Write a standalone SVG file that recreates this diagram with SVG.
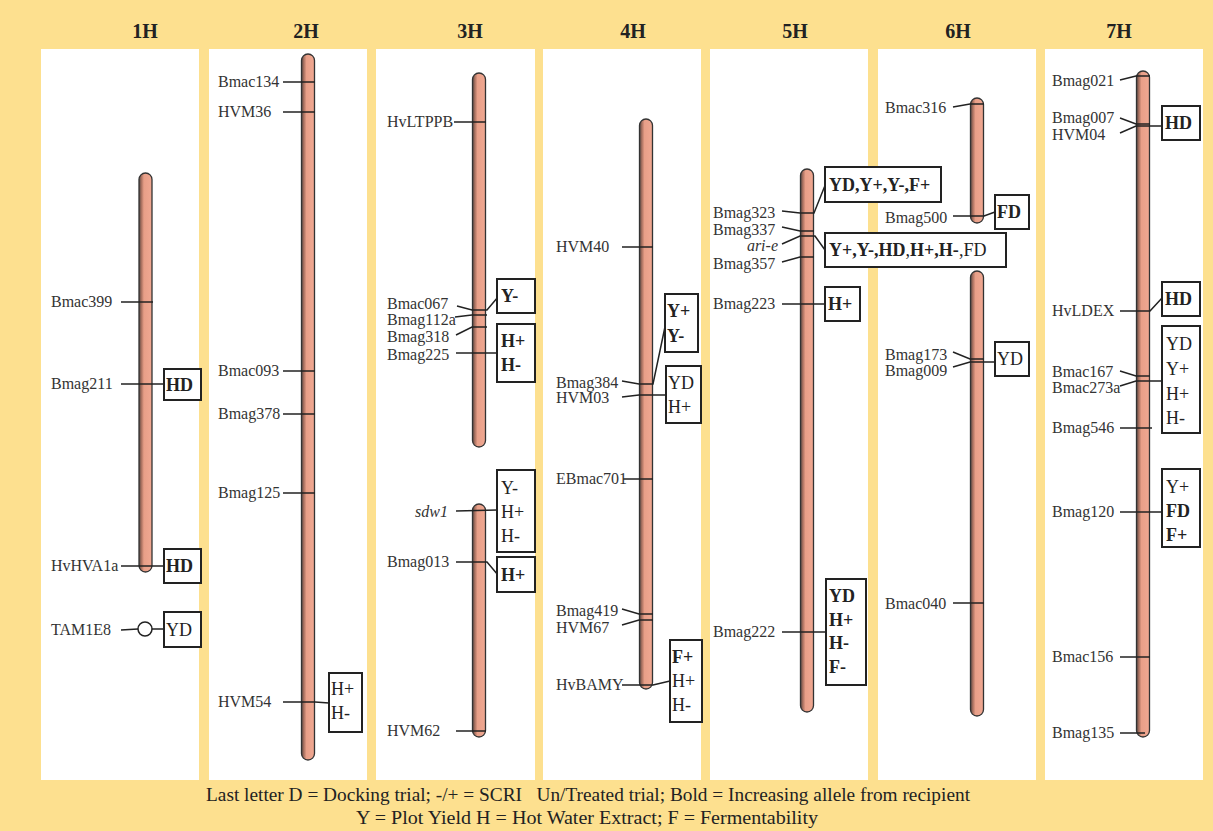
<svg xmlns="http://www.w3.org/2000/svg" width="1213" height="831" viewBox="0 0 1213 831">
<defs>
<linearGradient id="chr" x1="0" x2="1" y1="0" y2="0">
<stop offset="0" stop-color="#5a4a45"/>
<stop offset="0.18" stop-color="#a8705f"/>
<stop offset="0.38" stop-color="#e89f88"/>
<stop offset="1" stop-color="#f0a892"/>
</linearGradient>
<style>
.bg{fill:#fde08f}
.panel{fill:#ffffff}
.title{font-family:"Liberation Serif",serif;font-size:20px;font-weight:bold;fill:#222;text-anchor:middle}
.chrom{fill:url(#chr);stroke:#333;stroke-width:1.3}
.lbl{font-family:"Liberation Serif",serif;font-size:16px;fill:#333}
.it{font-style:italic}
.end{text-anchor:end}
.box{fill:#fff;stroke:#222;stroke-width:2}
.bt{font-family:"Liberation Serif",serif;font-size:18px;fill:#222}
.b{font-weight:bold}
.ln{fill:none;stroke:#222;stroke-width:1.5}
.leg{font-family:"Liberation Serif",serif;font-size:18px;fill:#222}
</style>
</defs>
<rect class="bg" x="0" y="0" width="1213" height="831"/>
<g id="panels">
<rect class="panel" x="41" y="49" width="158" height="731"/>
<rect class="panel" x="209" y="49" width="158" height="731"/>
<rect class="panel" x="376" y="49" width="159" height="731"/>
<rect class="panel" x="543" y="49" width="158" height="731"/>
<rect class="panel" x="710" y="49" width="158" height="731"/>
<rect class="panel" x="878" y="49" width="158" height="731"/>
<rect class="panel" x="1045" y="49" width="158" height="731"/>
</g>
<g id="titles">
<text class="title" x="145" y="38">1H</text>
<text class="title" x="306" y="38">2H</text>
<text class="title" x="470" y="38">3H</text>
<text class="title" x="633" y="38">4H</text>
<text class="title" x="795" y="38">5H</text>
<text class="title" x="958" y="38">6H</text>
<text class="title" x="1119" y="38">7H</text>
</g>
<g id="chromosomes">
<rect id="chr1H" class="chrom" x="139" y="173" width="13" height="399" rx="6.5"/>
<rect id="chr2H" class="chrom" x="301.5" y="54" width="13" height="706" rx="6.5"/>
<rect id="chr3Ha" class="chrom" x="472.5" y="73" width="13" height="374" rx="6.5"/>
<rect id="chr3Hb" class="chrom" x="472.5" y="504" width="13" height="233" rx="6.5"/>
<rect id="chr4H" class="chrom" x="639.5" y="119" width="13" height="570" rx="6.5"/>
<rect id="chr5H" class="chrom" x="800.5" y="169" width="13" height="543" rx="6.5"/>
<rect id="chr6Ha" class="chrom" x="970.5" y="98" width="13" height="125" rx="6.5"/>
<rect id="chr6Hb" class="chrom" x="970.5" y="271" width="13" height="445" rx="6.5"/>
<rect id="chr7H" class="chrom" x="1136.5" y="71" width="13" height="666" rx="6.5"/>
</g>
<g id="connectors">
<path class="ln" d="M121 302H153"/>
<path class="ln" d="M121 384H164"/>
<path class="ln" d="M121 566H164"/>
<path class="ln" d="M121 630L138 629M152 629H164"/>
<path class="ln" d="M283 82H315"/>
<path class="ln" d="M283 112H315"/>
<path class="ln" d="M283 371H315"/>
<path class="ln" d="M283 414H315"/>
<path class="ln" d="M283 493H315"/>
<path class="ln" d="M283 702H315L329 703"/>
<path class="ln" d="M454 122H486"/>
<path class="ln" d="M457 306L472 310H487L498 297"/>
<path class="ln" d="M455 317L472 315H487"/>
<path class="ln" d="M456 335L472 327H487"/>
<path class="ln" d="M456 353H497"/>
<path class="ln" d="M456 511L497 510"/>
<path class="ln" d="M456 562H487L498 575"/>
<path class="ln" d="M456 731H486"/>
<path class="ln" d="M622 247H653"/>
<path class="ln" d="M622 381L639 384H653L666 322"/>
<path class="ln" d="M622 397L639 395H666"/>
<path class="ln" d="M623 479H653"/>
<path class="ln" d="M622 609L639 614H653"/>
<path class="ln" d="M622 625L639 620H653"/>
<path class="ln" d="M622 685H653L670 681"/>
<path class="ln" d="M782 211L800 213H814L826 183"/>
<path class="ln" d="M782 227L800 231H814"/>
<path class="ln" d="M782 244L800 236H815L825 250"/>
<path class="ln" d="M782 262L800 257H814"/>
<path class="ln" d="M782 304H825"/>
<path class="ln" d="M782 632H826"/>
<path class="ln" d="M953 107L970 104H984"/>
<path class="ln" d="M953 216H984L995 212"/>
<path class="ln" d="M953 352L970 359H984"/>
<path class="ln" d="M953 367L970 362H995"/>
<path class="ln" d="M953 603H984"/>
<path class="ln" d="M1120 80L1136 76H1150"/>
<path class="ln" d="M1120 118L1136 124H1150"/>
<path class="ln" d="M1120 133L1136 126H1162"/>
<path class="ln" d="M1120 311H1150L1162 298"/>
<path class="ln" d="M1120 371L1136 376H1150"/>
<path class="ln" d="M1120 386L1136 381H1162"/>
<path class="ln" d="M1120 428H1152"/>
<path class="ln" d="M1120 512H1162"/>
<path class="ln" d="M1120 657H1150"/>
<path class="ln" d="M1120 733H1145"/>
</g>
<g id="markers">
<circle id="TAM1E8-locus" cx="145" cy="629" r="7" fill="#fff" stroke="#222" stroke-width="1.5"/>
<g id="lbl1H" class="lbl">
<text x="51" y="307">Bmac399</text>
<text x="51" y="389">Bmag211</text>
<text x="51" y="571">HvHVA1a</text>
<text x="51" y="635">TAM1E8</text>
</g>
<g id="lbl2H" class="lbl">
<text x="218" y="87">Bmac134</text>
<text x="218" y="117">HVM36</text>
<text x="218" y="376">Bmac093</text>
<text x="218" y="419">Bmag378</text>
<text x="218" y="498">Bmag125</text>
<text x="218" y="707">HVM54</text>
</g>
<g id="lbl3H" class="lbl">
<text x="387" y="127">HvLTPPB</text>
<text x="387" y="309">Bmac067</text>
<text x="387" y="325">Bmag112a</text>
<text x="387" y="342">Bmag318</text>
<text x="387" y="360">Bmag225</text>
<text class="it end" x="448" y="517">sdw1</text>
<text x="387" y="567">Bmag013</text>
<text x="387" y="736">HVM62</text>
</g>
<g id="lbl4H" class="lbl">
<text x="556" y="252">HVM40</text>
<text x="556" y="388">Bmag384</text>
<text x="556" y="403">HVM03</text>
<text x="556" y="484">EBmac701</text>
<text x="556" y="616">Bmag419</text>
<text x="556" y="633">HVM67</text>
<text x="556" y="690">HvBAMY</text>
</g>
<g id="lbl5H" class="lbl">
<text x="713" y="218">Bmag323</text>
<text x="713" y="235">Bmag337</text>
<text class="it end" x="778" y="251">ari-e</text>
<text x="713" y="269">Bmag357</text>
<text x="713" y="309">Bmag223</text>
<text x="713" y="637">Bmag222</text>
</g>
<g id="lbl6H" class="lbl">
<text x="885" y="113">Bmac316</text>
<text x="885" y="223">Bmag500</text>
<text x="885" y="360">Bmag173</text>
<text x="885" y="376">Bmag009</text>
<text x="885" y="609">Bmac040</text>
</g>
<g id="lbl7H" class="lbl">
<text x="1052" y="86">Bmag021</text>
<text x="1052" y="123">Bmag007</text>
<text x="1052" y="140">HVM04</text>
<text x="1052" y="316">HvLDEX</text>
<text x="1052" y="377">Bmac167</text>
<text x="1052" y="393">Bmac273a</text>
<text x="1052" y="433">Bmag546</text>
<text x="1052" y="517">Bmag120</text>
<text x="1052" y="662">Bmac156</text>
<text x="1052" y="738">Bmag135</text>
</g>
</g>
<g id="qtl-boxes">
<g id="q1H-HD1"><rect class="box" x="164" y="369" width="37" height="31"/><text class="bt b" x="166" y="391">HD</text></g>
<g id="q1H-HD2"><rect class="box" x="164" y="549" width="37" height="34"/><text class="bt b" x="166" y="572">HD</text></g>
<g id="q1H-YD"><rect class="box" x="164" y="612" width="37" height="35"/><text class="bt" x="166" y="636">YD</text></g>
<g id="q2H-H"><rect class="box" x="329" y="673" width="33" height="59"/><text class="bt" x="331" y="695">H+</text><text class="bt" x="331" y="719">H-</text></g>
<g id="q3H-Y"><rect class="box" x="497" y="279" width="38" height="34"/><text class="bt b" x="501" y="302">Y-</text></g>
<g id="q3H-H"><rect class="box" x="497" y="324" width="38" height="58"/><text class="bt b" x="501" y="347">H+</text><text class="bt b" x="501" y="371">H-</text></g>
<g id="q3H-sdw1"><rect class="box" x="497" y="470" width="38" height="82"/><text class="bt" x="501" y="494">Y-</text><text class="bt" x="501" y="518">H+</text><text class="bt" x="501" y="542">H-</text></g>
<g id="q3H-H2"><rect class="box" x="497" y="557" width="38" height="35"/><text class="bt b" x="501" y="581">H+</text></g>
<g id="q4H-Y"><rect class="box" x="665" y="294" width="33" height="58"/><text class="bt b" x="667" y="317">Y+</text><text class="bt b" x="667" y="342">Y-</text></g>
<g id="q4H-YDH"><rect class="box" x="666" y="366" width="35" height="57"/><text class="bt" x="668" y="389">YD</text><text class="bt" x="668" y="413">H+</text></g>
<g id="q4H-FH"><rect class="box" x="670" y="640" width="32" height="82"/><text class="bt b" x="672" y="663">F+</text><text class="bt" x="672" y="687">H+</text><text class="bt" x="672" y="711">H-</text></g>
<g id="q5H-top"><rect class="box" x="825" y="167" width="116" height="35"/><text class="bt b" x="829" y="191">YD,Y+,Y-,F+</text></g>
<g id="q5H-mid"><rect class="box" x="825" y="233" width="181" height="34"/><text class="bt" x="829" y="256"><tspan class="b">Y+,Y-,HD</tspan>,<tspan class="b">H+,H-</tspan>,FD</text></g>
<g id="q5H-H"><rect class="box" x="825" y="287" width="35" height="34"/><text class="bt b" x="828" y="310">H+</text></g>
<g id="q5H-bot"><rect class="box" x="826" y="579" width="40" height="106"/><text class="bt b" x="829" y="602">YD</text><text class="bt b" x="829" y="626">H+</text><text class="bt b" x="829" y="649">H-</text><text class="bt b" x="829" y="673">F-</text></g>
<g id="q6H-FD"><rect class="box" x="995" y="195" width="34" height="34"/><text class="bt b" x="997" y="218">FD</text></g>
<g id="q6H-YD"><rect class="box" x="995" y="342" width="34" height="34"/><text class="bt" x="997" y="365">YD</text></g>
<g id="q7H-HD1"><rect class="box" x="1162" y="106" width="38" height="34"/><text class="bt b" x="1165" y="129">HD</text></g>
<g id="q7H-HD2"><rect class="box" x="1162" y="282" width="38" height="34"/><text class="bt b" x="1165" y="305">HD</text></g>
<g id="q7H-mix"><rect class="box" x="1162" y="326" width="38" height="107"/><text class="bt" x="1166" y="350">YD</text><text class="bt" x="1166" y="375">Y+</text><text class="bt" x="1166" y="400">H+</text><text class="bt" x="1166" y="424">H-</text></g>
<g id="q7H-F"><rect class="box" x="1162" y="469" width="38" height="78"/><text class="bt" x="1166" y="493">Y+</text><text class="bt b" x="1166" y="517">FD</text><text class="bt b" x="1166" y="541">F+</text></g>
</g>
<g id="legend">
<text class="leg" x="206" y="801" xml:space="preserve" textLength="764" lengthAdjust="spacingAndGlyphs">Last letter D = Docking trial; -/+ = SCRI   Un/Treated trial; Bold = Increasing allele from recipient</text>
<text class="leg" x="356" y="824" textLength="462" lengthAdjust="spacingAndGlyphs">Y = Plot Yield H = Hot Water Extract; F = Fermentability</text>
</g>
</svg>
